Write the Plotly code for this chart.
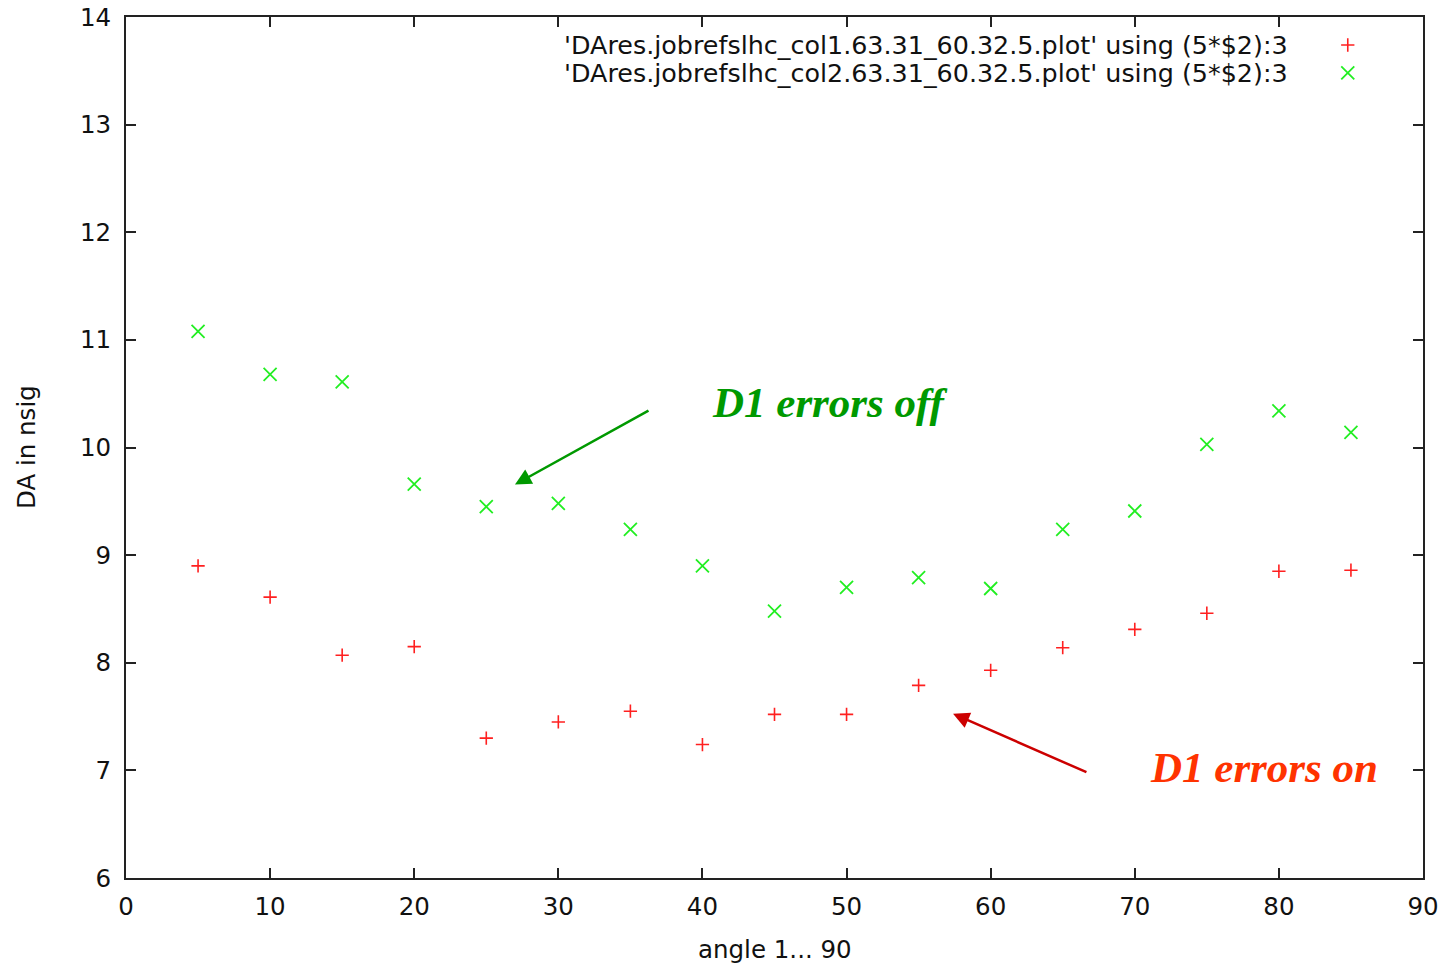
import plotly.graph_objects as go

angles = [5, 10, 15, 20, 25, 30, 35, 40, 45, 50, 55, 60, 65, 70, 75, 80, 85]
da_col1 = [8.90, 8.61, 8.07, 8.15, 7.30, 7.45, 7.55, 7.24, 7.52, 7.52, 7.79, 7.93, 8.14, 8.31, 8.46, 8.85, 8.86]
da_col2 = [11.08, 10.68, 10.61, 9.66, 9.45, 9.48, 9.24, 8.90, 8.48, 8.70, 8.79, 8.69, 9.24, 9.41, 10.03, 10.34, 10.14]
label1 = "'DAres.jobrefslhc_col1.63.31_60.32.5.plot' using (5*$2):3"
label2 = "'DAres.jobrefslhc_col2.63.31_60.32.5.plot' using (5*$2):3"
x_ticks = [0, 10, 20, 30, 40, 50, 60, 70, 80, 90]
y_ticks = [6, 7, 8, 9, 10, 11, 12, 13, 14]

RED = "#ff2020"
GREEN = "#22ee22"
FONT = "DejaVu Sans, sans-serif"
SERIF = "Liberation Serif, Times New Roman, serif"
TXT = "#111"

red_marker = dict(symbol="cross-thin", size=9.5, color=RED, line=dict(color=RED, width=1.6))
green_marker = dict(symbol="x-thin", size=13, color=GREEN, line=dict(color=GREEN, width=1.8))

fig = go.Figure()
fig.add_trace(go.Scatter(x=angles, y=da_col1, mode="markers", name=label1,
                         marker=red_marker, showlegend=False))
fig.add_trace(go.Scatter(x=angles, y=da_col2, mode="markers", name=label2,
                         marker=green_marker, showlegend=False))

# legend keys on an overlay axis spanning the plot area
key_x = 0.942
key_y = [0.9675, 0.935]
fig.add_trace(go.Scatter(x=[key_x], y=[key_y[0]], xaxis="x2", yaxis="y2", mode="markers",
                         marker=red_marker, showlegend=False, hoverinfo="skip"))
fig.add_trace(go.Scatter(x=[key_x], y=[key_y[1]], xaxis="x2", yaxis="y2", mode="markers",
                         marker=green_marker, showlegend=False, hoverinfo="skip"))

annotations = [
    dict(x=0.8975, y=key_y[0], xref="paper", yref="paper", text=label1, showarrow=False,
         xanchor="right", yanchor="middle", font=dict(family=FONT, size=25.4, color=TXT)),
    dict(x=0.8975, y=key_y[1], xref="paper", yref="paper", text=label2, showarrow=False,
         xanchor="right", yanchor="middle", font=dict(family=FONT, size=25.4, color=TXT)),
    # axis titles
    dict(x=-0.0763, y=0.5006, xref="paper", yref="paper", text="DA in nsig", showarrow=False,
         textangle=-90, xanchor="center", yanchor="middle", font=dict(family=FONT, size=24.5, color=TXT)),
    dict(x=0.5004, y=-0.0836, xref="paper", yref="paper", text="angle 1... 90", showarrow=False,
         xanchor="center", yanchor="middle", font=dict(family=FONT, size=24.5, color=TXT)),
    # arrows
    dict(x=26.99, y=9.656, ax=36.36, ay=10.35, xref="x", yref="y", axref="x", ayref="y",
         text="", showarrow=True, arrowhead=2, arrowsize=1.3, arrowwidth=2.5, arrowcolor="#009900"),
    dict(x=57.39, y=7.526, ax=66.75, ay=6.977, xref="x", yref="y", axref="x", ayref="y",
         text="", showarrow=True, arrowhead=2, arrowsize=1.3, arrowwidth=2.5, arrowcolor="#cc0000"),
    dict(x=40.5, y=10.42, xref="x", yref="y", text="<b><i>D1 errors off</i></b>", showarrow=False,
         xanchor="left", yanchor="middle", font=dict(family=SERIF, size=43, color="#009900")),
    dict(x=70.9, y=7.03, xref="x", yref="y", text="<b><i>D1 errors on</i></b>", showarrow=False,
         xanchor="left", yanchor="middle", font=dict(family=SERIF, size=43, color="#ff3300")),
]

axis_common = dict(showgrid=False, zeroline=False, showline=True, linecolor="#222", linewidth=2,
                   mirror="ticks", ticks="inside", ticklen=10, tickwidth=1.5, tickcolor="#222",
                   automargin=False, tickfont=dict(family=FONT, size=24.5, color=TXT))

fig.update_layout(
    width=1453, height=965,
    margin=dict(l=126, r=30, t=17, b=87),
    paper_bgcolor="white", plot_bgcolor="white",
    xaxis=dict(range=[0, 90], tickvals=x_ticks, ticklabelstandoff=6, **axis_common),
    yaxis=dict(range=[6, 14], tickvals=y_ticks, ticklabelstandoff=8, **axis_common),
    xaxis2=dict(range=[0, 1], overlaying="x", visible=False, fixedrange=True),
    yaxis2=dict(range=[0, 1], overlaying="y", visible=False, fixedrange=True),
    annotations=annotations,
    showlegend=False,
)

fig.write_html("out.html")
